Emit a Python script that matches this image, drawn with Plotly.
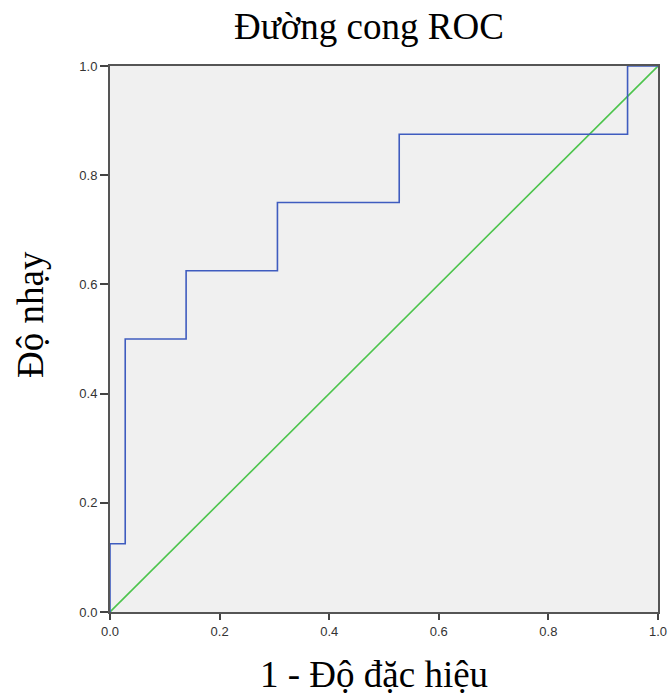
import plotly.graph_objects as go

# ROC step curve (1 - specificity, sensitivity)
fpr = [0.0, 0.0, 1/36, 1/36, 5/36, 5/36, 11/36, 11/36, 19/36, 19/36, 34/36, 34/36, 1.0]
tpr = [0.0, 0.125, 0.125, 0.5, 0.5, 0.625, 0.625, 0.75, 0.75, 0.875, 0.875, 1.0, 1.0]
ref_x = [0.0, 1.0]
ref_y = [0.0, 1.0]
tick_vals = [0.0, 0.2, 0.4, 0.6, 0.8, 1.0]
tick_text = ["0.0", "0.2", "0.4", "0.6", "0.8", "1.0"]

fig = go.Figure()
fig.add_trace(go.Scatter(x=ref_x, y=ref_y, mode="lines",
                         line=dict(color="#4cc44c", width=1.6), showlegend=False))
fig.add_trace(go.Scatter(x=fpr, y=tpr, mode="lines",
                         line=dict(color="#3f5cbf", width=1.6), showlegend=False))

axis_common = dict(
    range=[0, 1], tickvals=tick_vals, ticktext=tick_text, automargin=False,
    showgrid=False, zeroline=False, showline=True, mirror=True,
    linecolor="#555555", linewidth=2, ticks="outside",
    tickcolor="#444444", tickwidth=1.5,
    tickfont=dict(family="Liberation Sans, Arial", size=13, color="#333333"),
)
fig.update_xaxes(ticklen=6, **axis_common)
fig.update_yaxes(ticklen=8, **axis_common)

serif = "Liberation Serif, Times New Roman, serif"
fig.update_layout(
    width=669, height=695,
    margin=dict(l=110, r=11, t=66, b=83),
    plot_bgcolor="#f0f0f0", paper_bgcolor="white",
    annotations=[
        dict(text="Đường cong ROC", xref="paper", yref="paper", x=(369-110)/548, y=1,
             xanchor="center", yanchor="middle", yshift=40, showarrow=False,
             font=dict(family=serif, size=37, color="black")),
        dict(text="1 - Độ đặc hiệu", xref="paper", yref="paper", x=(374-110)/548, y=0,
             xanchor="center", yanchor="middle", yshift=-62, showarrow=False,
             font=dict(family=serif, size=37, color="black")),
        dict(text="Độ nhạy", xref="paper", yref="paper", x=0, xshift=-80, y=(612-315)/546,
             xanchor="center", yanchor="middle",
             textangle=-90, showarrow=False, font=dict(family=serif, size=37, color="black")),
    ],
)

fig.write_html("out.html")
